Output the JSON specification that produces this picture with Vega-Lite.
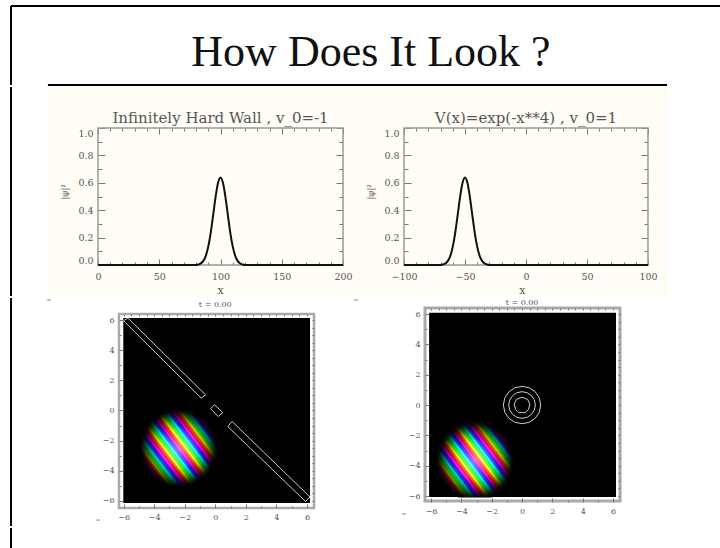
{"$schema":"https://vega.github.io/schema/vega-lite/v6.json","padding":{"left":10,"top":5,"right":0,"bottom":0},"background":"white","config":{"view":{"stroke":null},"axis":{"grid":false,"domain":false,"labelFont":"DejaVu Serif","labelColor":"#555","tickColor":"#777"},"title":{"fontWeight":"normal"}},
"datasets":{"stripes":[{"x":1.56,"y":-2.08,"x2":-1.56,"y2":2.08,"c":"#f0f"},{"x":1.66,"y":-2.0,"x2":-1.45,"y2":2.16,"c":"#f05"},{"x":1.76,"y":-1.91,"x2":-1.34,"y2":2.23,"c":"#f50"},{"x":1.86,"y":-1.82,"x2":-1.23,"y2":2.29,"c":"#ff0"},{"x":1.95,"y":-1.72,"x2":-1.11,"y2":2.35,"c":"#5f0"},{"x":2.03,"y":-1.62,"x2":-0.99,"y2":2.41,"c":"#0f5"},{"x":2.12,"y":-1.51,"x2":-0.86,"y2":2.45,"c":"#0ff"},{"x":2.19,"y":-1.4,"x2":-0.73,"y2":2.5,"c":"#05f"},{"x":2.27,"y":-1.27,"x2":-0.59,"y2":2.53,"c":"#50f"},{"x":2.33,"y":-1.15,"x2":-0.45,"y2":2.56,"c":"#f0f"},{"x":2.4,"y":-1.01,"x2":-0.3,"y2":2.58,"c":"#f05"},{"x":2.45,"y":-0.87,"x2":-0.15,"y2":2.6,"c":"#f50"},{"x":2.5,"y":-0.71,"x2":0.02,"y2":2.6,"c":"#ff0"},{"x":2.54,"y":-0.55,"x2":0.18,"y2":2.59,"c":"#5f0"},{"x":2.57,"y":-0.37,"x2":0.36,"y2":2.57,"c":"#0f5"},{"x":2.59,"y":-0.18,"x2":0.55,"y2":2.54,"c":"#0ff"},{"x":2.6,"y":0.03,"x2":0.75,"y2":2.49,"c":"#05f"},{"x":2.59,"y":0.26,"x2":0.98,"y2":2.41,"c":"#50f"},{"x":2.54,"y":0.54,"x2":1.23,"y2":2.29,"c":"#f0f"},{"x":2.44,"y":0.89,"x2":1.54,"y2":2.09,"c":"#f05"},{"x":1.45,"y":-2.16,"x2":-1.66,"y2":2.0,"c":"#50f"},{"x":1.34,"y":-2.23,"x2":-1.76,"y2":1.91,"c":"#05f"},{"x":1.23,"y":-2.29,"x2":-1.86,"y2":1.82,"c":"#0ff"},{"x":1.11,"y":-2.35,"x2":-1.95,"y2":1.72,"c":"#0f5"},{"x":0.99,"y":-2.41,"x2":-2.03,"y2":1.62,"c":"#5f0"},{"x":0.86,"y":-2.45,"x2":-2.12,"y2":1.51,"c":"#ff0"},{"x":0.73,"y":-2.5,"x2":-2.19,"y2":1.4,"c":"#f50"},{"x":0.59,"y":-2.53,"x2":-2.27,"y2":1.27,"c":"#f05"},{"x":0.45,"y":-2.56,"x2":-2.33,"y2":1.15,"c":"#f0f"},{"x":0.3,"y":-2.58,"x2":-2.4,"y2":1.01,"c":"#50f"},{"x":0.15,"y":-2.6,"x2":-2.45,"y2":0.87,"c":"#05f"},{"x":-0.02,"y":-2.6,"x2":-2.5,"y2":0.71,"c":"#0ff"},{"x":-0.18,"y":-2.59,"x2":-2.54,"y2":0.55,"c":"#0f5"},{"x":-0.36,"y":-2.57,"x2":-2.57,"y2":0.37,"c":"#5f0"},{"x":-0.55,"y":-2.54,"x2":-2.59,"y2":0.18,"c":"#ff0"},{"x":-0.75,"y":-2.49,"x2":-2.6,"y2":-0.03,"c":"#f50"},{"x":-0.98,"y":-2.41,"x2":-2.59,"y2":-0.26,"c":"#f05"},{"x":-1.23,"y":-2.29,"x2":-2.54,"y2":-0.54,"c":"#f0f"},{"x":-1.54,"y":-2.09,"x2":-2.44,"y2":-0.89,"c":"#50f"}]},
"spacing":0,
"vconcat":[
{"width":710,"height":79,"layer":[
{"data":{"values":[{"x":0,"y":1,"x2":1,"y2":1,"w":"frame"},{"x":0,"y":0,"x2":0,"y2":1,"w":"frame"},{"x":0.052,"y":0,"x2":0.924,"y2":0,"w":"line"}]},"mark":{"type":"rule","stroke":"#000","strokeWidth":2},"encoding":{"x":{"field":"x","type":"quantitative","axis":null,"scale":{"domain":[0,1]}},"y":{"field":"y","type":"quantitative","axis":null,"scale":{"domain":[0,1]}},"x2":{"field":"x2"},"y2":{"field":"y2"}}},
{"data":{"values":[{"x":0.507,"y":0.235,"t":"How Does It Look ?"}]},"mark":{"type":"text","font":"Liberation Serif","fontSize":44,"color":"#111","align":"center","baseline":"alphabetic"},"encoding":{"x":{"field":"x","type":"quantitative","axis":null},"y":{"field":"y","type":"quantitative","axis":null},"text":{"field":"t"}}}
]},
{"hconcat":[
{"width":37,"height":209,"data":{"values":[{"v":0}]},"mark":{"type":"rule","stroke":"#000","strokeWidth":2},"encoding":{"x":{"field":"v","type":"quantitative","axis":null,"scale":{"domain":[0,1]}}}},
{"width":315,"height":209,"view":{"fill":"#fffdf5","stroke":null},
"layer":[
{"data":{"values":[{"x":0,"y":0,"x2":200,"y2":1}]},"mark":{"type":"rect","fill":null,"stroke":"#999","strokeWidth":1.5},"encoding":{"x":{"field":"x","type":"quantitative","scale":{"domain":[-40.8,216.3],"nice":false},"axis":{"orient":"bottom","offset":-31,"title":null,"values":[0,10,20,30,40,50,60,70,80,90,100,110,120,130,140,150,160,170,180,190,200],"labelExpr":"datum.value%50==0?datum.label:''","labelFontSize":9.5,"labelOverlap":false,"labelPadding":12,"tickSize":{"condition":{"test":"datum.value%50==0","value":-6},"value":-3}}},"y":{"field":"y","type":"quantitative","scale":{"domain":[-0.2263,1.3],"nice":false},"axis":{"orient":"left","offset":-50,"title":"|ψ|²","titleFont":"DejaVu Sans","titleFontSize":9,"titleFontWeight":"normal","titleColor":"#666","titlePadding":8,"values":[0,0.1,0.2,0.3,0.4,0.5,0.6,0.7,0.8,0.9,1],"format":".1f","labelExpr":"round(datum.value*10)%2==0?datum.label:''","labelFontSize":9.5,"labelBaseline":{"condition":[{"test":"datum.value==1","value":"top"},{"test":"datum.value==0","value":"bottom"}],"value":"middle"},"labelOverlap":false,"labelPadding":12,"tickSize":{"condition":{"test":"round(datum.value*10)%2==0","value":-7},"value":-4}}},"x2":{"field":"x2"},"y2":{"field":"y2"}}},
{"data":{"values":[{"x":0,"y":0},{"x":80,"y":0},{"x":82,"y":0.004},{"x":84,"y":0.012},{"x":86,"y":0.03},{"x":88,"y":0.067},{"x":90,"y":0.134},{"x":92,"y":0.235},{"x":94,"y":0.365},{"x":96,"y":0.498},{"x":98,"y":0.601},{"x":100,"y":0.64},{"x":102,"y":0.601},{"x":104,"y":0.498},{"x":106,"y":0.365},{"x":108,"y":0.235},{"x":110,"y":0.134},{"x":112,"y":0.067},{"x":114,"y":0.03},{"x":116,"y":0.012},{"x":118,"y":0.004},{"x":120,"y":0},{"x":200,"y":0}]},"mark":{"type":"line","color":"#111","strokeWidth":2,"interpolate":"monotone"},"encoding":{"x":{"field":"x","type":"quantitative","axis":null},"y":{"field":"y","type":"quantitative","axis":null}}},
{"data":{"values":[{"x":0,"y":0}]},"mark":{"type":"point","opacity":0},"encoding":{"x":{"field":"x","type":"quantitative","axis":{"orient":"top","offset":-41,"title":null,"labels":false,"values":[0,10,20,30,40,50,60,70,80,90,100,110,120,130,140,150,160,170,180,190,200],"tickSize":{"condition":{"test":"datum.value%50==0","value":-6},"value":-3}}},"y":{"field":"y","type":"quantitative","axis":{"orient":"right","offset":-20,"title":null,"labels":false,"values":[0,0.1,0.2,0.3,0.4,0.5,0.6,0.7,0.8,0.9,1],"tickSize":{"condition":{"test":"round(datum.value*10)%2==0","value":-7},"value":-4}}}}},
{"data":{"values":[{"x":100,"y":1.036,"t":"Infinitely Hard Wall , v_0=-1","s":15},{"x":100,"y":-0.212,"t":"x","s":11}]},"mark":{"type":"text","font":"DejaVu Serif","color":"#555","align":"center","baseline":"alphabetic"},"encoding":{"x":{"field":"x","type":"quantitative","axis":null},"y":{"field":"y","type":"quantitative","axis":null},"text":{"field":"t"},"size":{"field":"s","type":"quantitative","scale":null,"legend":null}}}
]},
{"width":304,"height":209,"view":{"fill":"#fffdf5","stroke":null},
"layer":[
{"data":{"values":[{"x":-100,"y":0,"x2":100,"y2":1}]},"mark":{"type":"rect","fill":null,"stroke":"#999","strokeWidth":1.5},"encoding":{"x":{"field":"x","type":"quantitative","scale":{"domain":[-133.6,115.6],"nice":false},"axis":{"orient":"bottom","offset":-31,"title":null,"values":[-100,-90,-80,-70,-60,-50,-40,-30,-20,-10,0,10,20,30,40,50,60,70,80,90,100],"labelExpr":"datum.value%50==0?datum.label:''","labelFontSize":9.5,"labelOverlap":false,"labelPadding":12,"tickSize":{"condition":{"test":"datum.value%50==0","value":-6},"value":-3}}},"y":{"field":"y","type":"quantitative","scale":{"domain":[-0.2263,1.3],"nice":false},"axis":{"orient":"left","offset":-41,"title":"|ψ|²","titleFont":"DejaVu Sans","titleFontSize":9,"titleFontWeight":"normal","titleColor":"#666","titlePadding":8,"values":[0,0.1,0.2,0.3,0.4,0.5,0.6,0.7,0.8,0.9,1],"format":".1f","labelExpr":"round(datum.value*10)%2==0?datum.label:''","labelFontSize":9.5,"labelBaseline":{"condition":[{"test":"datum.value==1","value":"top"},{"test":"datum.value==0","value":"bottom"}],"value":"middle"},"labelOverlap":false,"labelPadding":12,"tickSize":{"condition":{"test":"round(datum.value*10)%2==0","value":-7},"value":-4}}},"x2":{"field":"x2"},"y2":{"field":"y2"}}},
{"data":{"values":[{"x":-100,"y":0},{"x":-70,"y":0},{"x":-68,"y":0.004},{"x":-66,"y":0.012},{"x":-64,"y":0.03},{"x":-62,"y":0.067},{"x":-60,"y":0.134},{"x":-58,"y":0.235},{"x":-56,"y":0.365},{"x":-54,"y":0.498},{"x":-52,"y":0.601},{"x":-50,"y":0.64},{"x":-48,"y":0.601},{"x":-46,"y":0.498},{"x":-44,"y":0.365},{"x":-42,"y":0.235},{"x":-40,"y":0.134},{"x":-38,"y":0.067},{"x":-36,"y":0.03},{"x":-34,"y":0.012},{"x":-32,"y":0.004},{"x":-30,"y":0},{"x":100,"y":0}]},"mark":{"type":"line","color":"#111","strokeWidth":2,"interpolate":"monotone"},"encoding":{"x":{"field":"x","type":"quantitative","axis":null},"y":{"field":"y","type":"quantitative","axis":null}}},
{"data":{"values":[{"x":-100,"y":0}]},"mark":{"type":"point","opacity":0},"encoding":{"x":{"field":"x","type":"quantitative","axis":{"orient":"top","offset":-41,"title":null,"labels":false,"values":[-100,-90,-80,-70,-60,-50,-40,-30,-20,-10,0,10,20,30,40,50,60,70,80,90,100],"tickSize":{"condition":{"test":"datum.value%50==0","value":-6},"value":-3}}},"y":{"field":"y","type":"quantitative","axis":{"orient":"right","offset":-19,"title":null,"labels":false,"values":[0,0.1,0.2,0.3,0.4,0.5,0.6,0.7,0.8,0.9,1],"tickSize":{"condition":{"test":"round(datum.value*10)%2==0","value":-7},"value":-4}}}}},
{"data":{"values":[{"x":0,"y":1.036,"t":"V(x)=exp(-x**4) , v_0=1","s":15},{"x":-3,"y":-0.212,"t":"x","s":11}]},"mark":{"type":"text","font":"DejaVu Serif","color":"#555","align":"center","baseline":"alphabetic"},"encoding":{"x":{"field":"x","type":"quantitative","axis":null},"y":{"field":"y","type":"quantitative","axis":null},"text":{"field":"t"},"size":{"field":"s","type":"quantitative","scale":null,"legend":null}}}
]}
],"spacing":0,"bounds":"flush"},
{"hconcat":[
{"width":108,"height":228,"layer":[
{"data":{"values":[{"v":0}]},"mark":{"type":"rule","stroke":"#000","strokeWidth":2},"encoding":{"x":{"field":"v","type":"quantitative","axis":null,"scale":{"domain":[0,1]}}}},
{"data":{"values":[{"v":0.335,"v2":0.37,"y":0.991},{"v":0.79,"v2":0.825,"y":0.026}]},"mark":{"type":"rule","stroke":"#888","strokeWidth":1},"encoding":{"x":{"field":"v","type":"quantitative","axis":null},"x2":{"field":"v2"},"y":{"field":"y","type":"quantitative","axis":null,"scale":{"domain":[0,1]}}}}
]},
{"width":195,"height":228,"resolve":{"scale":{"x":"independent","y":"independent"}},
"layer":[
{"layer":[
{"data":{"values":[{"x":-6.02,"x2":6.2,"y":-6.13,"y2":6.13}]},"mark":{"type":"rect","fill":"#000"},"encoding":{"x":{"field":"x","type":"quantitative","scale":{"domain":[-6.3,6.46],"nice":false},"axis":{"orient":"bottom","offset":-18,"title":null,"values":[-6,-5.5,-5,-4.5,-4,-3.5,-3,-2.5,-2,-1.5,-1,-0.5,0,0.5,1,1.5,2,2.5,3,3.5,4,4.5,5,5.5,6],"labelExpr":"datum.value%2==0?datum.label:''","format":"d","labelFontSize":8,"labelOverlap":false,"labelPadding":9,"zindex":1,"tickSize":{"condition":{"test":"datum.value%2==0","value":-4},"value":-2}}},"y":{"field":"y","type":"quantitative","scale":{"domain":[-7.66,7.459],"nice":false},"axis":{"orient":"left","title":null,"values":[-6,-5.5,-5,-4.5,-4,-3.5,-3,-2.5,-2,-1.5,-1,-0.5,0,0.5,1,1.5,2,2.5,3,3.5,4,4.5,5,5.5,6],"labelExpr":"datum.value%2==0?datum.label:''","format":"d","labelFontSize":8,"labelOverlap":false,"labelPadding":9,"zindex":1,"tickSize":{"condition":{"test":"datum.value%2==0","value":-4},"value":-2}}},"x2":{"field":"x2"},"y2":{"field":"y2"}}},
{"data":{"values":[{"p":"a","o":1,"x":-5.72,"y":6.13},{"p":"a","o":2,"x":-0.64,"y":1.04},{"p":"a","o":3,"x":-0.92,"y":0.82},{"p":"a","o":4,"x":-6,"y":5.95},{"p":"a","o":5,"x":-5.72,"y":6.13},{"p":"b","o":1,"x":-0.05,"y":0.38},{"p":"b","o":2,"x":0.49,"y":-0.13},{"p":"b","o":3,"x":0.2,"y":-0.4},{"p":"b","o":4,"x":-0.31,"y":0.11},{"p":"b","o":5,"x":-0.05,"y":0.38},{"p":"c","o":1,"x":1.1,"y":-0.73},{"p":"c","o":2,"x":6.2,"y":-5.74},{"p":"c","o":3,"x":5.9,"y":-6.03},{"p":"c","o":4,"x":0.82,"y":-1.06},{"p":"c","o":5,"x":1.1,"y":-0.73}]},"mark":{"type":"line","color":"#ccc","strokeWidth":1},"encoding":{"x":{"field":"x","type":"quantitative","axis":null},"y":{"field":"y","type":"quantitative","axis":null},"detail":{"field":"p"},"order":{"field":"o","type":"quantitative"}}},
{"data":{"values":[{"x":-6,"y":-6}]},"mark":{"type":"point","opacity":0},"encoding":{"x":{"field":"x","type":"quantitative","axis":{"orient":"top","offset":-16,"title":null,"labels":false,"zindex":1,"values":[-6,-5.5,-5,-4.5,-4,-3.5,-3,-2.5,-2,-1.5,-1,-0.5,0,0.5,1,1.5,2,2.5,3,3.5,4,4.5,5,5.5,6],"tickSize":-2}},"y":{"field":"y","type":"quantitative","axis":{"orient":"right","title":null,"labels":false,"zindex":1,"values":[-6,-5.5,-5,-4.5,-4,-3.5,-3,-2.5,-2,-1.5,-1,-0.5,0,0.5,1,1.5,2,2.5,3,3.5,4,4.5,5,5.5,6],"tickSize":-2}}}},
{"data":{"values":[{"x":0,"y":6.85,"t":"t = 0.00"}]},"mark":{"type":"text","font":"DejaVu Serif","fontSize":8,"color":"#555","align":"center","baseline":"alphabetic"},"encoding":{"x":{"field":"x","type":"quantitative","axis":null},"y":{"field":"y","type":"quantitative","axis":null},"text":{"field":"t"}}},
{"data":{"values":[{"x":-6.3,"x2":6.46,"y":-6.46,"y2":6.4}]},"mark":{"type":"rect","fill":null,"stroke":"#aaa","strokeWidth":2.5},"encoding":{"x":{"field":"x","type":"quantitative","axis":null},"y":{"field":"y","type":"quantitative","axis":null},"x2":{"field":"x2"},"y2":{"field":"y2"}}}
]},
{"encoding":{"x":{"field":"x","type":"quantitative","axis":null,"scale":{"domain":[-3.91,8.85],"nice":false}},"y":{"field":"y","type":"quantitative","axis":null,"scale":{"domain":[-5.16,9.959],"nice":false}}},"layer":[
{"data":{"name":"stripes"},"mark":{"type":"rule","strokeWidth":2.6},"encoding":{"x2":{"field":"x2"},"y2":{"field":"y2"},"color":{"field":"c","type":"nominal","scale":null,"legend":null}}},
{"data":{"values":[{"x":0,"y":0}]},"mark":{"type":"circle","size":6724,"opacity":1,"fill":{"gradient":"radial","stops":[{"offset":0,"color":"rgba(0,0,0,0)"},{"offset":0.45,"color":"rgba(0,0,0,0.05)"},{"offset":0.62,"color":"rgba(0,0,0,0.25)"},{"offset":0.76,"color":"rgba(0,0,0,0.6)"},{"offset":0.875,"color":"rgba(0,0,0,0.9)"},{"offset":0.95,"color":"#000"},{"offset":1,"color":"#000"}]}}},
{"data":{"values":[{"x":0,"y":0}]},"mark":{"type":"circle","size":2200,"opacity":1,"fill":{"gradient":"radial","stops":[{"offset":0,"color":"rgba(255,255,255,0.45)"},{"offset":1,"color":"rgba(255,255,255,0)"}]}}}
]}
]},
{"width":111,"height":228,"data":{"values":[{"x":0.36,"x2":0.395,"y":0.991},{"x":0.795,"x2":0.83,"y":0.053}]},"mark":{"type":"rule","stroke":"#888","strokeWidth":1},"encoding":{"x":{"field":"x","type":"quantitative","axis":null,"scale":{"domain":[0,1]}},"x2":{"field":"x2"},"y":{"field":"y","type":"quantitative","axis":null,"scale":{"domain":[0,1]}}}},
{"width":195,"height":228,"resolve":{"scale":{"x":"independent","y":"independent"}},
"layer":[
{"layer":[
{"data":{"values":[{"x":-6.13,"x2":6.2,"y":-6.07,"y2":6.08}]},"mark":{"type":"rect","fill":"#000"},"encoding":{"x":{"field":"x","type":"quantitative","scale":{"domain":[-6.4,6.46],"nice":false},"axis":{"orient":"bottom","offset":-24,"title":null,"values":[-6,-5.5,-5,-4.5,-4,-3.5,-3,-2.5,-2,-1.5,-1,-0.5,0,0.5,1,1.5,2,2.5,3,3.5,4,4.5,5,5.5,6],"labelExpr":"datum.value%2==0?datum.label:''","format":"d","labelFontSize":8,"labelOverlap":false,"labelPadding":9,"zindex":1,"tickSize":{"condition":{"test":"datum.value%2==0","value":-4},"value":-2}}},"y":{"field":"y","type":"quantitative","scale":{"domain":[-7.975,7.055],"nice":false},"axis":{"orient":"left","title":null,"values":[-6,-5.5,-5,-4.5,-4,-3.5,-3,-2.5,-2,-1.5,-1,-0.5,0,0.5,1,1.5,2,2.5,3,3.5,4,4.5,5,5.5,6],"labelExpr":"datum.value%2==0?datum.label:''","format":"d","labelFontSize":8,"labelOverlap":false,"labelPadding":9,"zindex":1,"tickSize":{"condition":{"test":"datum.value%2==0","value":-4},"value":-2}}},"x2":{"field":"x2"},"y2":{"field":"y2"}}},
{"data":{"values":[{"r":"a","o":1,"x":1.23,"y":0},{"r":"a","o":2,"x":1.14,"y":0.47},{"r":"a","o":3,"x":0.87,"y":0.87},{"r":"a","o":4,"x":0.47,"y":1.14},{"r":"a","o":5,"x":0,"y":1.23},{"r":"a","o":6,"x":-0.47,"y":1.14},{"r":"a","o":7,"x":-0.87,"y":0.87},{"r":"a","o":8,"x":-1.14,"y":0.47},{"r":"a","o":9,"x":-1.23,"y":0},{"r":"a","o":10,"x":-1.14,"y":-0.47},{"r":"a","o":11,"x":-0.87,"y":-0.87},{"r":"a","o":12,"x":-0.47,"y":-1.14},{"r":"a","o":13,"x":0,"y":-1.23},{"r":"a","o":14,"x":0.47,"y":-1.14},{"r":"a","o":15,"x":0.87,"y":-0.87},{"r":"a","o":16,"x":1.14,"y":-0.47},{"r":"a","o":17,"x":1.23,"y":0},{"r":"b","o":1,"x":0.88,"y":0},{"r":"b","o":2,"x":0.81,"y":0.34},{"r":"b","o":3,"x":0.62,"y":0.62},{"r":"b","o":4,"x":0.34,"y":0.81},{"r":"b","o":5,"x":0,"y":0.88},{"r":"b","o":6,"x":-0.34,"y":0.81},{"r":"b","o":7,"x":-0.62,"y":0.62},{"r":"b","o":8,"x":-0.81,"y":0.34},{"r":"b","o":9,"x":-0.88,"y":0},{"r":"b","o":10,"x":-0.81,"y":-0.34},{"r":"b","o":11,"x":-0.62,"y":-0.62},{"r":"b","o":12,"x":-0.34,"y":-0.81},{"r":"b","o":13,"x":0,"y":-0.88},{"r":"b","o":14,"x":0.34,"y":-0.81},{"r":"b","o":15,"x":0.62,"y":-0.62},{"r":"b","o":16,"x":0.81,"y":-0.34},{"r":"b","o":17,"x":0.88,"y":0},{"r":"c","o":1,"x":0.52,"y":0.05},{"r":"c","o":2,"x":0.37,"y":0.37},{"r":"c","o":3,"x":0,"y":0.52},{"r":"c","o":4,"x":-0.37,"y":0.37},{"r":"c","o":5,"x":-0.52,"y":0.05},{"r":"c","o":6,"x":-0.42,"y":-0.3},{"r":"c","o":7,"x":-0.22,"y":-0.5},{"r":"c","o":8,"x":0.22,"y":-0.5},{"r":"c","o":9,"x":0.42,"y":-0.3},{"r":"c","o":10,"x":0.52,"y":0.05}]},"mark":{"type":"line","color":"#ccc","strokeWidth":1},"encoding":{"x":{"field":"x","type":"quantitative","axis":null},"y":{"field":"y","type":"quantitative","axis":null},"detail":{"field":"r"},"order":{"field":"o","type":"quantitative"}}},
{"data":{"values":[{"x":-6,"y":-6}]},"mark":{"type":"point","opacity":0},"encoding":{"x":{"field":"x","type":"quantitative","axis":{"orient":"top","offset":-10,"title":null,"labels":false,"zindex":1,"values":[-6,-5.5,-5,-4.5,-4,-3.5,-3,-2.5,-2,-1.5,-1,-0.5,0,0.5,1,1.5,2,2.5,3,3.5,4,4.5,5,5.5,6],"tickSize":-2}},"y":{"field":"y","type":"quantitative","axis":{"orient":"right","title":null,"labels":false,"zindex":1,"values":[-6,-5.5,-5,-4.5,-4,-3.5,-3,-2.5,-2,-1.5,-1,-0.5,0,0.5,1,1.5,2,2.5,3,3.5,4,4.5,5,5.5,6],"tickSize":-2}}}},
{"data":{"values":[{"x":0,"y":6.6,"t":"t = 0.00"}]},"mark":{"type":"text","font":"DejaVu Serif","fontSize":8,"color":"#555","align":"center","baseline":"alphabetic"},"encoding":{"x":{"field":"x","type":"quantitative","axis":null},"y":{"field":"y","type":"quantitative","axis":null},"text":{"field":"t"}}}
]},
{"encoding":{"x":{"field":"x","type":"quantitative","axis":null,"scale":{"domain":[-3.3,9.56],"nice":false}},"y":{"field":"y","type":"quantitative","axis":null,"scale":{"domain":[-4.325,10.705],"nice":false}}},"layer":[
{"data":{"name":"stripes"},"mark":{"type":"rule","strokeWidth":2.6},"encoding":{"x2":{"field":"x2"},"y2":{"field":"y2"},"color":{"field":"c","type":"nominal","scale":null,"legend":null}}},
{"data":{"values":[{"x":0,"y":0}]},"mark":{"type":"circle","size":6724,"opacity":1,"fill":{"gradient":"radial","stops":[{"offset":0,"color":"rgba(0,0,0,0)"},{"offset":0.45,"color":"rgba(0,0,0,0.05)"},{"offset":0.62,"color":"rgba(0,0,0,0.25)"},{"offset":0.76,"color":"rgba(0,0,0,0.6)"},{"offset":0.875,"color":"rgba(0,0,0,0.9)"},{"offset":0.95,"color":"#000"},{"offset":1,"color":"#000"}]}}},
{"data":{"values":[{"x":0,"y":0}]},"mark":{"type":"circle","size":2200,"opacity":1,"fill":{"gradient":"radial","stops":[{"offset":0,"color":"rgba(255,255,255,0.45)"},{"offset":1,"color":"rgba(255,255,255,0)"}]}}}
]},
{"data":{"values":[{"x":-6.27,"x2":6.33,"y":-6.2,"y2":6.24,"k":"gap"},{"x":-6.4,"x2":6.46,"y":-6.33,"y2":6.4,"k":"frame"}]},"mark":{"type":"rect","fill":null,"strokeWidth":3},"encoding":{"stroke":{"field":"k","type":"nominal","legend":null,"scale":{"domain":["gap","frame"],"range":["#fff","#aaa"]}},"x":{"field":"x","type":"quantitative","axis":null,"scale":{"domain":[-6.4,6.46],"nice":false}},"y":{"field":"y","type":"quantitative","axis":null,"scale":{"domain":[-7.975,7.055],"nice":false}},"x2":{"field":"x2"},"y2":{"field":"y2"}}}
]}
],"spacing":0,"bounds":"flush"},
{"width":710,"height":21,"data":{"values":[{"x":0,"y":0,"x2":1,"y2":0},{"x":0,"y":0,"x2":0,"y2":1}]},"mark":{"type":"rule","stroke":"#000","strokeWidth":2},"encoding":{"x":{"field":"x","type":"quantitative","axis":null,"scale":{"domain":[0,1]}},"y":{"field":"y","type":"quantitative","axis":null,"scale":{"domain":[0,1]}},"x2":{"field":"x2"},"y2":{"field":"y2"}}}
]}
